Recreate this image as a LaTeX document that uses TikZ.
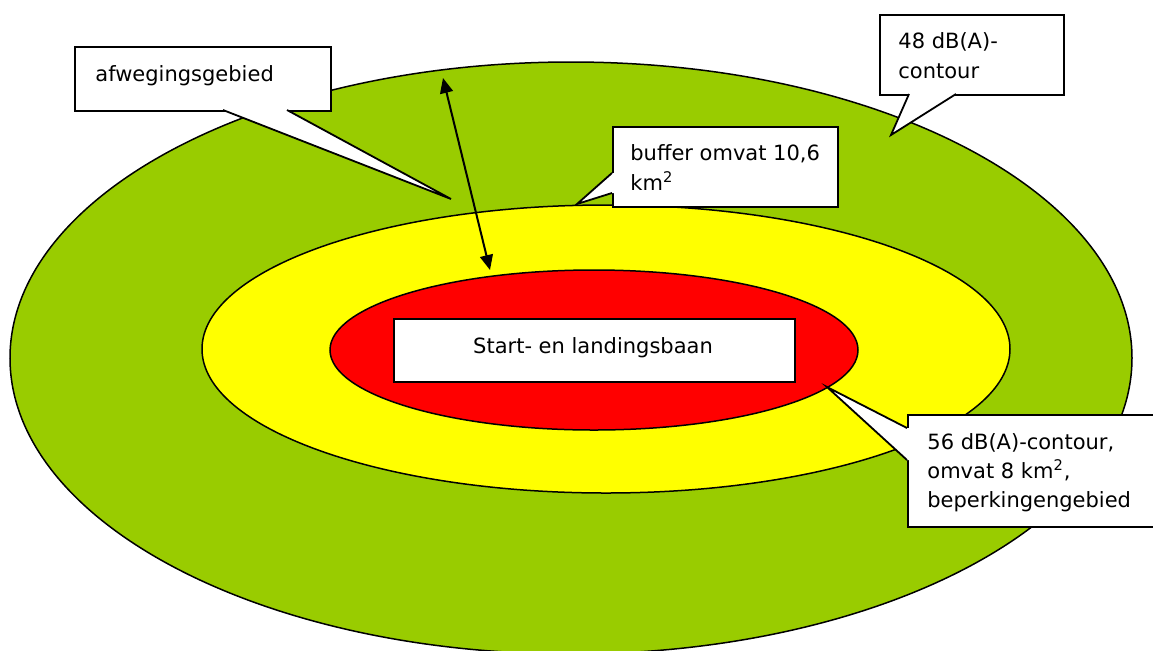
\documentclass[tikz,border=0pt]{standalone}
\usepackage{fontspec}
\setmainfont{DejaVu Sans}
\usetikzlibrary{arrows.meta,shapes.geometric}
\definecolor{zgreen}{HTML}{99CC00}
\definecolor{zyellow}{HTML}{FFFF00}
\definecolor{zred}{HTML}{FF0000}
\begin{document}
\begin{tikzpicture}[x=0.5pt,y=-0.5pt,
  zone/.style={ellipse, draw=black, line width=0.75pt, inner sep=0pt},
  lbl/.style={font=\fontsize{10.5}{13}\selectfont, anchor=base west, inner sep=0pt, text=black},
  box/.style={draw=black, fill=white, line width=0.9pt, rectangle, inner sep=0pt, anchor=north west},
  tailfill/.style={fill=white, draw=none},
  tailedge/.style={draw=black, line width=0.9pt, line join=miter},
  dblarrow/.style={draw=black, line width=1pt, {Triangle[length=7.5pt,width=6.5pt]}-{Triangle[length=7.5pt,width=6.5pt]}}]
\useasboundingbox (0,0) rectangle (1153,650);
\clip (0,0) rectangle (1153,650);
\fill[white] (0,0) rectangle (1153,650);
% zones
\node[zone, fill=zgreen, minimum width=561pt, minimum height=296pt] (green) at (571,358) {};
\node[zone, fill=zyellow, minimum width=404pt, minimum height=144pt] (yellow) at (606,349) {};
\node[zone, fill=zred, minimum width=264pt, minimum height=80pt] (red) at (594,350) {};
% runway
\node[box, anchor=center, minimum width=200.5pt, minimum height=31.5pt] (runway) at (594.5,350.5) {};
\node[lbl, anchor=base] (runwaytxt) at (593,353) {Start- en landingsbaan};
% double arrow
\coordinate (arrT) at (443,78);
\coordinate (arrB) at (490,270);
\draw[dblarrow] (arrT) -- (arrB);
% callout: afwegingsgebied
\node[box, minimum width=128pt, minimum height=32pt] (afw) at (74,46) {};
\coordinate (afwP) at (451,199);
\coordinate (afwA) at (223,110);
\coordinate (afwB) at (287,110);
\fill[tailfill] (afwP) -- (afwA) -- (223,104) -- (287,104) -- (afwB) -- cycle;
\draw[tailedge] (afwA) -- (afwP) -- (afwB);
\node[lbl] (afwtxt) at (95,81) {afwegingsgebied};
% callout: 48 dB(A)-contour
\node[box, minimum width=92pt, minimum height=40pt] (c48) at (879,14) {};
\coordinate (c48P) at (891,135);
\coordinate (c48A) at (909,94);
\coordinate (c48B) at (956,94);
\fill[tailfill] (c48P) -- (c48A) -- (909,88) -- (956,88) -- (c48B) -- cycle;
\draw[tailedge] (c48A) -- (c48P) -- (c48B);
\node[lbl] (c48t1) at (898,48) {48 dB(A)-};
\node[lbl] (c48t2) at (898,78) {contour};
% callout: buffer
\node[box, minimum width=112.5pt, minimum height=40pt] (buf) at (612,126) {};
\coordinate (bufP) at (577,204);
\coordinate (bufA) at (612,173);
\coordinate (bufB) at (612,193);
\fill[tailfill] (bufP) -- (bufA) -- (618,173) -- (618,193) -- (bufB) -- cycle;
\draw[tailedge] (bufA) -- (bufP) -- (bufB);
\node[lbl] (buft1) at (630,160) {buffer omvat 10,6};
\node[lbl] (buft2) at (630,190) {km\textsuperscript{2}};
% callout: 56 dB(A)-contour
\node[box, minimum width=130pt, minimum height=56pt] (c56) at (907,414) {};
\coordinate (c56P) at (827,387);
\coordinate (c56A) at (907,428);
\coordinate (c56B) at (907,460);
\fill[tailfill] (c56P) -- (c56A) -- (913,428) -- (913,460) -- (c56B) -- cycle;
\draw[tailedge] (c56A) -- (c56P) -- (c56B);
\node[lbl] (c56t1) at (927,449) {56 dB(A)-contour,};
\node[lbl] (c56t2) at (927,478) {omvat 8 km\textsuperscript{2},};
\node[lbl] (c56t3) at (927,507) {beperkingengebied};
\end{tikzpicture}
\end{document}
